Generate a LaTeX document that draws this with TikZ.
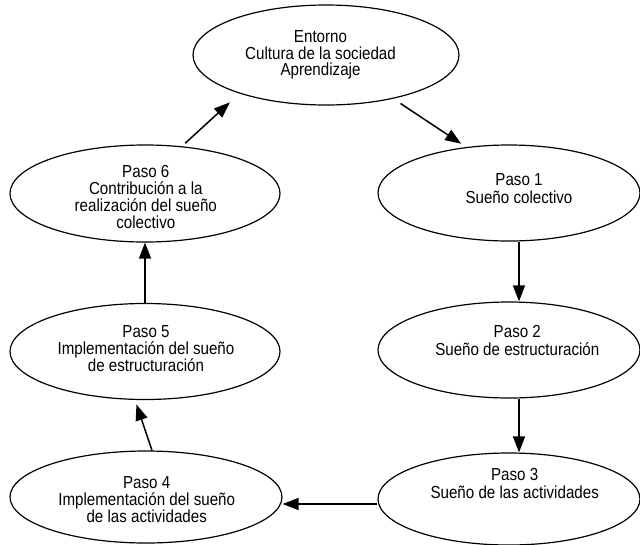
\documentclass[tikz,border=0pt]{standalone}
\usepackage{fontspec}
\setmainfont{Liberation Sans}[FakeStretch=0.87]
\usetikzlibrary{shapes.geometric,arrows.meta}
\begin{document}
\begin{tikzpicture}[x=1pt,y=-1pt,
  oval/.style={ellipse,draw,line width=1.2pt,inner sep=0pt},
  txt/.style={align=center,inner sep=0pt,anchor=north,font=\fontsize{17.4}{17}\selectfont},
  txtw/.style={txt,font=\fontsize{17.4}{18}\selectfont},
  arr/.style={line width=1.5pt,-{Triangle[length=16pt,width=12pt]}}]
\useasboundingbox (0,0) rectangle (640,544);
% ellipses
\node[oval,minimum width=266pt,minimum height=100pt] (e0) at (326,55) {};
\node[oval,minimum width=262pt,minimum height=96pt] (e1) at (509,193) {};
\node[oval,minimum width=262pt,minimum height=96pt] (e2) at (509,350) {};
\node[oval,minimum width=262pt,minimum height=92pt] (e3) at (509,499) {};
\node[oval,minimum width=272pt,minimum height=92pt] (e4) at (146,497) {};
\node[oval,minimum width=270pt,minimum height=96pt] (e5) at (145,351.5) {};
\node[oval,minimum width=270pt,minimum height=97pt] (e6) at (145,193.5) {};
% texts
\node[txt,font=\fontsize{17.4}{16.6}\selectfont] (t0) at (320.5,30.5) {Entorno\\Cultura de la sociedad\\Aprendizaje};
\node[txtw] (t1) at (519,173) {Paso 1\\Sueño colectivo};
\node[txtw] (t2) at (517.3,325) {Paso 2\\Sueño de estructuración};
\node[txtw] (t3) at (514.7,468.3) {Paso 3\\Sueño de las actividades};
\node[txt] (t4) at (146.7,476.7) {Paso 4\\Implementación del sueño\\de las actividades};
\node[txt] (t5) at (146,325) {Paso 5\\Implementación del sueño\\de estructuración};
\node[txt] (t6) at (145.8,165) {Paso 6\\Contribución a la\\realización del sueño\\colectivo};
% connectors
\draw[arr,shorten <=8.7pt,shorten >=6pt] (e0.-33) -- (e1.133.2);
\draw[arr] ([xshift=10pt]e1.south) -- ([xshift=10pt]e2.north);
\draw[arr] ([xshift=10pt]e2.south) -- ([xshift=10pt]e3.north);
\draw[arr] ([yshift=-5pt]e3.west) -- ([yshift=-5pt]e3.west -| e4.east);
\draw[arr,shorten >=4.5pt] ([xshift=6pt]e4.north) -- ([xshift=-10pt]e5.south);
\draw[arr] (e5.north) -- (e6.south);
\draw[arr,shorten <=4.5pt,shorten >=13pt] (e6.52.3) -- (e0.-156.5);
\end{tikzpicture}
\end{document}
